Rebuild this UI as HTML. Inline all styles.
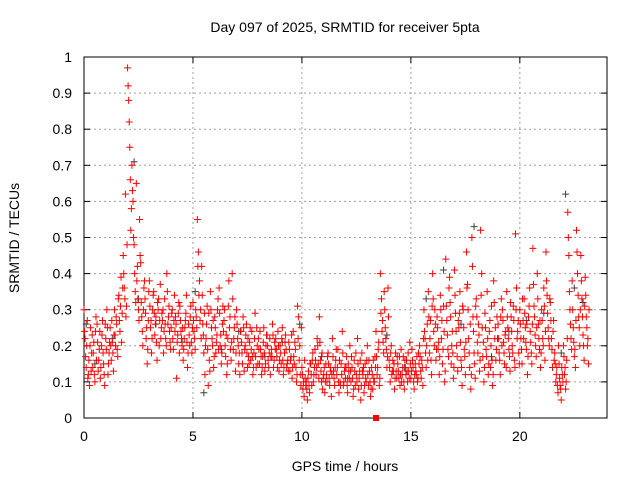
<!DOCTYPE html>
<html><head><meta charset="utf-8"><style>
html,body{margin:0;padding:0;background:#fff}
svg{display:block;font-family:"Liberation Sans",sans-serif}
</style></head><body>
<svg id="chart" width="640" height="480" viewBox="0 0 640 480">
<text x="345" y="32" font-size="14" text-anchor="middle">Day 097 of 2025, SRMTID for receiver 5pta</text>
<text transform="translate(19,238) rotate(-90)" font-size="14" text-anchor="middle">SRMTID / TECUs</text>
<text x="345" y="471" font-size="14" text-anchor="middle">GPS time / hours</text>
<g id="grid"></g>
<g id="axes"></g>
<g id="marks"></g>
</svg>
<script>
const xTicks = [0,5,10,15,20];
const yTicks = [0,0.1,0.2,0.3,0.4,0.5,0.6,0.7,0.8,0.9,1];
const yTickLabels = ["0","0.1","0.2","0.3","0.4","0.5","0.6","0.7","0.8","0.9","1"];
const slotTimes = [0.0,0.2,0.4,0.6,0.8,1.0,1.2,1.4,1.6,1.8,2.0,2.2,2.4,2.6,2.8,3.0,3.2,3.4,3.6,3.8,4.0,4.2,4.4,4.6,4.8,5.0,5.2,5.4,5.6,5.8,6.0,6.2,6.4,6.6,6.8,7.0,7.2,7.4,7.6,7.8,8.0,8.2,8.4,8.6,8.8,9.0,9.2,9.4,9.6,9.8,10.0,10.2,10.4,10.6,10.8,11.0,11.2,11.4,11.6,11.8,12.0,12.2,12.4,12.6,12.8,13.0,13.2,13.4,13.6,13.8,14.0,14.2,14.4,14.6,14.8,15.0,15.2,15.4,15.6,15.8,16.0,16.2,16.4,16.6,16.8,17.0,17.2,17.4,17.6,17.8,18.0,18.2,18.4,18.6,18.8,19.0,19.2,19.4,19.6,19.8,20.0,20.2,20.4,20.6,20.8,21.0,21.2,21.4,21.6,21.8,22.0,22.2,22.4,22.6,22.8,23.0];
const redVals = [
[.30,.22,.14,.27],[.12,.09,.25,.18],[.14,.21,.10,.28],[.26,.13,.19,.11],[.20,.27,.15,.09],
[.22,.30,.12,.18],[.25,.16,.21,.13],[.30,.20,.26,.17],[.34,.24,.39,.29],[.45,.36,.62,.31],
[.97,.88,.75,.52],[.70,.60,.48,.35],[.65,.42,.30,.55],[.43,.28,.20,.36],[.33,.22,.15,.27],
[.38,.25,.18,.30],[.35,.23,.28,.16],[.30,.20,.37,.25],[.27,.18,.33,.22],[.40,.26,.31,.21],
[.25,.30,.19,.34],[.28,.11,.23,.32],[.31,.24,.20,.16],[.22,.27,.34,.14],[.26,.20,.31,.18],
[.32,.24,.19,.28],[.55,.46,.38,.30],[.42,.26,.18,.12],[.22,.31,.09,.16],[.35,.25,.20,.14],
[.28,.18,.23,.33],[.36,.20,.15,.26],[.24,.30,.17,.12],[.22,.38,.28,.16],[.40,.19,.25,.13],
[.30,.22,.15,.12],[.24,.18,.28,.13],[.20,.26,.14,.17],[.21,.16,.24,.12],[.18,.29,.14,.20],
[.22,.15,.19,.12],[.17,.25,.13,.20],[.23,.16,.18,.12],[.19,.26,.14,.21],[.22,.17,.24,.13],
[.20,.15,.25,.12],[.18,.23,.14,.16],[.21,.13,.17,.11],[.24,.15,.19,.10],[.31,.28,.20,.09],
[.14,.08,.06,.11],[.10,.05,.13,.07],[.15,.09,.18,.12],[.19,.12,.22,.15],[.28,.16,.10,.08],
[.12,.07,.15,.10],[.18,.11,.14,.06],[.22,.13,.09,.16],[.12,.19,.07,.10],[.15,.24,.09,.13],
[.11,.17,.07,.13],[.20,.10,.14,.06],[.16,.09,.12,.22],[.08,.13,.05,.18],[.12,.07,.15,.10],
[.20,.09,.13,.06],[.14,.08,.11,.17],[.24,.12,.19,.09],[.40,.33,.27,.18],[.30,.22,.14,.36],
[.16,.10,.20,.13],[.13,.08,.18,.11],[.15,.11,.09,.19],[.12,.17,.08,.14],[.16,.10,.13,.21],
[.11,.19,.14,.08],[.15,.12,.10,.18],[.20,.13,.16,.09],[.30,.22,.14,.26],[.35,.18,.27,.12],
[.40,.24,.30,.16],[.28,.19,.12,.34],[.22,.15,.31,.10],[.44,.27,.19,.36],[.32,.15,.24,.11],
[.41,.29,.20,.13],[.25,.35,.16,.09],[.30,.19,.12,.46],[.37,.22,.14,.08],[.50,.28,.18,.11],
[.33,.21,.26,.13],[.52,.40,.17,.10],[.29,.19,.35,.12],[.24,.14,.31,.09],[.38,.22,.16,.28],
[.26,.18,.12,.33],[.30,.21,.15,.24],[.35,.25,.19,.13],[.28,.20,.31,.16],[.51,.36,.24,.18],
[.30,.22,.15,.27],[.33,.25,.19,.12],[.28,.36,.21,.15],[.47,.31,.23,.17],[.40,.26,.19,.14],
[.30,.22,.36,.16],[.46,.34,.25,.20],[.32,.22,.14,.27],[.18,.10,.14,.07],[.15,.09,.05,.12],
[.20,.12,.08,.16],[.57,.45,.30,.22],[.38,.25,.17,.14],[.52,.40,.28,.20],[.45,.33,.23,.16],
[.39,.28,.20,.15]];
const redVals2 = [
[.24,.17,.20,.11],[.16,.20,.13,.23],[.18,.12,.24,.16],[.21,.16,.24,.14],[.23,.18,.12,.26],
[.19,.25,.15,.21],[.20,.27,.18,.23],[.23,.28,.19,.33],[.27,.31,.21,.36],[.40,.33,.28,.48],
[.92,.82,.66,.58],[.63,.50,.40,.32],[.38,.33,.27,.45],[.32,.24,.30,.38],[.29,.25,.19,.35],
[.31,.27,.22,.34],[.29,.26,.21,.32],[.33,.27,.22,.29],[.30,.24,.26,.20],[.35,.28,.24,.19],
[.29,.22,.27,.24],[.26,.21,.29,.18],[.27,.22,.25,.19],[.25,.29,.21,.18],[.23,.28,.21,.25],
[.27,.22,.30,.25],[.42,.34,.27,.22],[.34,.23,.29,.20],[.26,.19,.29,.13],[.30,.22,.27,.17],
[.25,.21,.30,.19],[.29,.23,.18,.31],[.27,.20,.23,.15],[.31,.25,.19,.21],[.33,.22,.28,.18],
[.26,.20,.18,.24],[.21,.15,.25,.19],[.23,.18,.22,.15],[.25,.19,.17,.14],[.22,.17,.25,.15],
[.19,.24,.17,.14],[.21,.18,.15,.23],[.20,.14,.22,.17],[.17,.23,.16,.19],[.19,.14,.20,.16],
[.18,.22,.16,.14],[.21,.19,.15,.13],[.19,.16,.23,.14],[.17,.21,.14,.12],[.22,.16,.12,.25],
[.12,.10,.16,.09],[.08,.11,.09,.15],[.12,.16,.10,.14],[.16,.14,.20,.11],[.21,.13,.18,.11],
[.14,.10,.12,.17],[.15,.09,.13,.12],[.17,.11,.14,.19],[.14,.10,.16,.09],[.12,.18,.10,.14],
[.14,.09,.15,.11],[.13,.17,.11,.08],[.13,.18,.10,.15],[.11,.16,.09,.13],[.14,.09,.11,.16],
[.12,.16,.10,.08],[.12,.16,.10,.14],[.17,.14,.21,.11],[.29,.24,.21,.35],[.25,.19,.17,.28],
[.14,.18,.12,.16],[.15,.11,.13,.17],[.13,.17,.12,.10],[.14,.10,.16,.12],[.13,.18,.11,.15],
[.13,.16,.10,.12],[.13,.17,.11,.15],[.17,.11,.14,.22],[.24,.18,.20,.16],[.28,.22,.16,.31],
[.33,.20,.26,.19],[.25,.21,.17,.30],[.27,.19,.24,.13],[.31,.23,.17,.39],[.28,.20,.18,.14],
[.34,.24,.17,.27],[.29,.21,.14,.31],[.25,.17,.21,.36],[.30,.18,.26,.12],[.42,.24,.15,.31],
[.28,.18,.23,.16],[.34,.25,.21,.14],[.25,.17,.22,.15],[.27,.20,.16,.12],[.32,.25,.19,.22],
[.22,.16,.28,.20],[.27,.18,.23,.14],[.28,.22,.17,.32],[.24,.18,.27,.14],[.30,.22,.27,.15],
[.26,.19,.33,.22],[.29,.21,.26,.17],[.31,.24,.18,.26],[.37,.28,.20,.25],[.33,.22,.27,.18],
[.27,.20,.31,.24],[.38,.29,.22,.33],[.27,.19,.24,.16],[.15,.12,.09,.20],[.11,.08,.14,.10],
[.17,.14,.10,.22],[.50,.35,.26,.19],[.30,.21,.19,.27],[.46,.34,.25,.30],[.38,.28,.20,.31],
[.34,.25,.22,.30]];
const blackTimes = [0.1,0.5,1.3,2.3,2.5,3.3,4.5,5.1,5.5,6.3,7.1,8.3,9.1,9.9,10.9,12.1,13.3,13.9,14.7,15.7,16.5,17.3,17.9,18.7,19.5,20.3,21.1,21.9,22.1,22.5,22.9];
const blackVals = [.26,.15,.22,.71,.33,.26,.21,.35,.07,.19,.24,.17,.21,.26,.17,.11,.10,.23,.14,.33,.41,.26,.53,.17,.24,.27,.29,.18,.62,.36,.32];
const squareTimes = [13.4];
const squareVals = [0];

const L=84,R=607,T=57,B=418;
const xs=h=>L+(R-L)*h/24;
const ys=v=>B-(B-T)*v;
const NS="http://www.w3.org/2000/svg";
function mk(tag,attrs,parent){const e=document.createElementNS(NS,tag);for(const k in attrs)e.setAttribute(k,attrs[k]);parent.appendChild(e);return e;}
const grid=document.getElementById('grid'),axes=document.getElementById('axes'),marks=document.getElementById('marks');
xTicks.forEach(t=>{
  const x=xs(t);
  if(t>0){const g=mk('line',{x1:x,x2:x,y1:T,y2:B,stroke:'#a0a0a0','stroke-dasharray':'2,3'},grid);
  
  }
  mk('line',{x1:x,x2:x,y1:B,y2:B-6,stroke:'#000'},axes);
  mk('line',{x1:x,x2:x,y1:T,y2:T+6,stroke:'#000'},axes);
  const tx=mk('text',{x:x,y:B+23,'font-size':14,'text-anchor':'middle'},axes);
  tx.textContent=String(t);
  
  
});
yTicks.forEach((t,i)=>{
  const y=ys(t);
  if(t>0&&t<1){const g=mk('line',{x1:L,x2:R,y1:y,y2:y,stroke:'#a0a0a0','stroke-dasharray':'2,3'},grid);
  
  }
  mk('line',{x1:L,x2:L+6,y1:y,y2:y,stroke:'#000'},axes);
  mk('line',{x1:R,x2:R-6,y1:y,y2:y,stroke:'#000'},axes);
  const tx=mk('text',{x:L-12,y:y+5,'font-size':14,'text-anchor':'end'},axes);
  tx.textContent=yTickLabels[i];
  
  
});
const fr=mk('rect',{x:L,y:T,width:R-L,height:B-T,fill:'none',stroke:'#000'},axes);


function plus(h,v,color,name){
  const x=xs(h),y=ys(v);
  const p=mk('path',{d:`M${x-3.5},${y}h7M${x},${y-3.5}v7`,stroke:color,'stroke-width':1,fill:'none'},marks);
  
  
}
blackTimes.forEach((h,i)=>plus(h,blackVals[i],'#404040','black-point'));
slotTimes.forEach((h,i)=>{redVals[i].forEach((v,k)=>plus(h+k*0.05,v,'#ff0000','red-point'));});
slotTimes.forEach((h,i)=>{redVals2[i].forEach((v,k)=>plus(h+0.025+k*0.05,v,'#ff0000','red-point'));});
squareTimes.forEach((h,i)=>{
  const s=mk('rect',{x:xs(h)-3,y:ys(squareVals[i])-3,width:6,height:6,fill:'#ff0000'},marks);
  
  
});
</script>
</body></html>
